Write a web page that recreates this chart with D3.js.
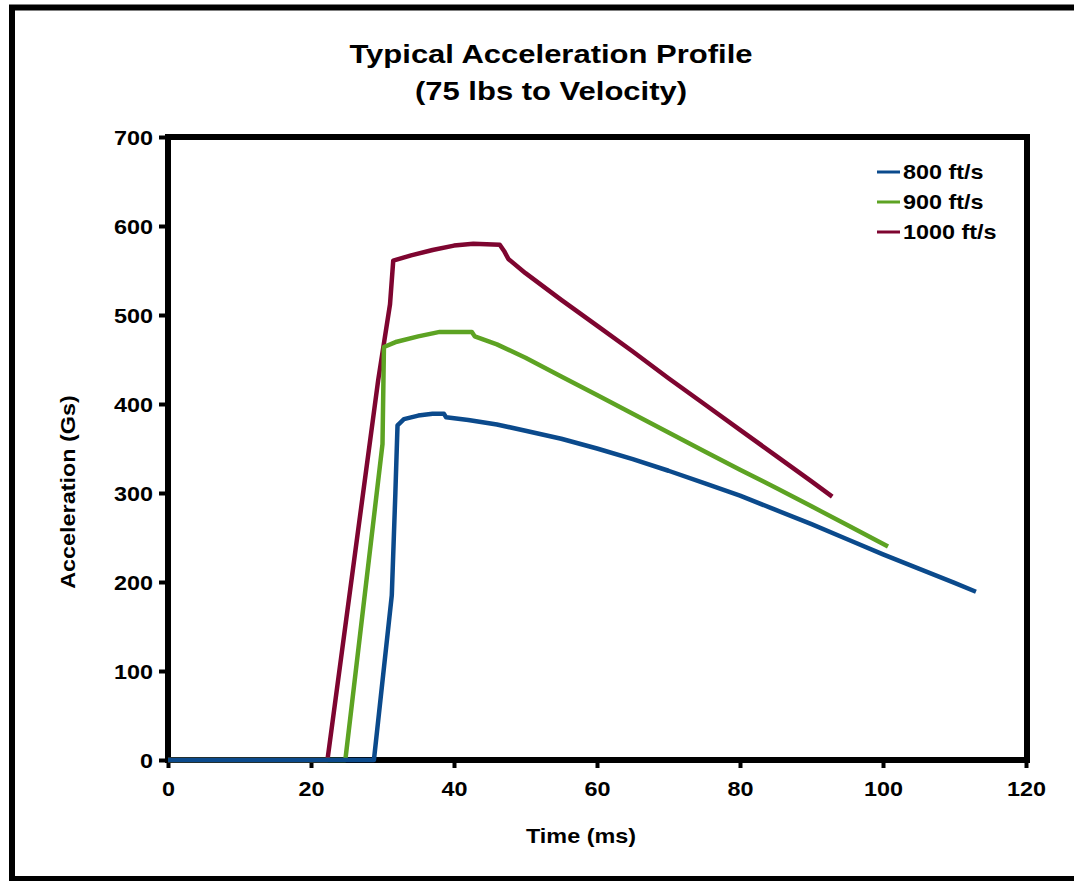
<!DOCTYPE html>
<html>
<head>
<meta charset="utf-8">
<script src="https://cdn.jsdelivr.net/npm/d3@7/dist/d3.min.js"></script>
<style>
  html, body { margin: 0; padding: 0; background: #fff; }
  svg { display: block; }
  text { font-family: "Liberation Sans", Arial, sans-serif; font-weight: bold; fill: #000; }
</style>
</head>
<body>
<svg id="chart" width="1074" height="881"></svg>
<script>
// ---- data ----
const titleLines = ["Typical Acceleration Profile", "(75 lbs to Velocity)"];
const xTicks = [0, 20, 40, 60, 80, 100, 120];
const yTicks = [0, 100, 200, 300, 400, 500, 600, 700];
const seriesNames = ["800 ft/s", "900 ft/s", "1000 ft/s"];
const seriesColors = ["#0b4a8c", "#5da323", "#7e0530"];

const t800 = [0, 28.8, 31.3, 31.8, 32.1, 33, 35, 37, 38.6, 38.9, 42, 46, 50, 55, 60, 65, 70, 75, 80, 85, 90, 95, 100, 105, 110, 113];
const a800 = [0, 0, 185, 300, 376, 383, 387, 389, 389, 385, 382, 377, 370, 361, 350, 338, 325, 311, 297, 281, 265, 248, 231, 215, 199, 189];

const t900 = [0, 24.8, 30.0, 30.2, 32, 35, 38, 42.5, 42.9, 46, 50, 55, 60, 65, 70, 75, 80, 85, 90, 95, 100.7];
const a900 = [0, 0, 355, 464, 470, 476, 481, 481, 476, 467, 452, 431, 410, 389, 368, 347, 326, 306, 285, 264, 240];

const t1000 = [0, 22.3, 29.4, 31.05, 31.5, 34, 37, 40, 42.7, 46.4, 47.0, 47.6, 50, 55, 60, 65, 70, 75, 80, 85, 90, 92.9];
const a1000 = [0, 0, 427, 512, 561, 567, 573, 578, 580, 579, 572, 563, 547, 517, 488, 459, 429, 400, 371, 342, 313, 296];

const timeSeries = [t800, t900, t1000];
const accSeries = [a800, a900, a1000];

// ---- layout ----
const svg = d3.select("#chart");
const X0 = 168, X1 = 1026, Y0 = 760, Y1 = 137;
const sx = 1.17; // horizontal glyph stretch
const x = d3.scaleLinear().domain([0, 120]).range([X0, X1]);
const y = d3.scaleLinear().domain([0, 700]).range([Y0, Y1]);

// outer border
svg.append("rect").attr("x", 12).attr("y", 7.5).attr("width", 1080).attr("height", 871.5)
  .attr("fill", "none").attr("stroke", "#000").attr("stroke-width", 6);

// title
svg.selectAll("text.title").data(titleLines).enter().append("text")
  .attr("class", "title")
  .attr("transform", (d, i) => `translate(551,${63 + i * 37}) scale(${sx},1)`)
  .attr("text-anchor", "middle").style("font-size", "26.5px").text(d => d);

// plot frame
svg.append("rect").attr("x", X0).attr("y", Y1).attr("width", 1027 - X0).attr("height", Y0 - Y1)
  .attr("fill", "none").attr("stroke", "#000").attr("stroke-width", 6);

// axes
const xAxis = svg.append("g").attr("transform", `translate(0,${Y0})`)
  .call(d3.axisBottom(x).tickValues(xTicks).tickSize(8).tickPadding(14).tickFormat(d3.format("d")));
const yAxis = svg.append("g").attr("transform", `translate(${X0},0)`)
  .call(d3.axisLeft(y).tickValues(yTicks).tickSize(9).tickPadding(6).tickFormat(d3.format("d")));
[xAxis, yAxis].forEach(g => {
  g.select(".domain").remove();
  g.selectAll(".tick line").attr("stroke", "#000").attr("stroke-width", 4);
  g.selectAll(".tick text").style("font-size", "20px")
    .style("font-family", "'Liberation Sans', Arial, sans-serif").style("font-weight", "bold")
    .attr("fill", "#000");
});
xAxis.selectAll(".tick text").attr("transform", `scale(${sx},1)`).attr("dy", "0.71em");
yAxis.selectAll(".tick text").each(function() {
  const t = d3.select(this);
  const xx = +t.attr("x");
  t.attr("x", xx / sx).attr("transform", `scale(${sx},1)`).attr("dy", "0.36em");
});

// axis titles
svg.append("text").attr("transform", `translate(581,843) scale(${sx},1)`)
  .attr("text-anchor", "middle").style("font-size", "20px").text("Time (ms)");
svg.append("text").attr("transform", `translate(75,492) rotate(-90) scale(${sx},1)`)
  .attr("text-anchor", "middle").style("font-size", "20px").text("Acceleration (Gs)");

// lines (drawn 1000 first so that 800 sits on top, as in the original)
const line = d3.line().x(d => x(d[0])).y(d => y(d[1]));
[2, 1, 0].forEach(i => {
  const pts = timeSeries[i].map((t, j) => [t, accSeries[i][j]]);
  svg.append("path").datum(pts).attr("d", line)
    .attr("fill", "none").attr("stroke", seriesColors[i]).attr("stroke-width", 4.5)
    .attr("stroke-linejoin", "round").attr("stroke-linecap", "butt");
});

// legend
const leg = svg.append("g");
seriesNames.forEach((name, i) => {
  const yy = 172 + i * 30;
  leg.append("line").attr("x1", 877).attr("x2", 900).attr("y1", yy).attr("y2", yy)
    .attr("stroke", seriesColors[i]).attr("stroke-width", 3);
  leg.append("text").attr("transform", `translate(903,${yy + 5}) scale(${sx},1)`)
    .attr("dy", "0.1em").style("font-size", "20px").text(name);
});
</script>
</body>
</html>
